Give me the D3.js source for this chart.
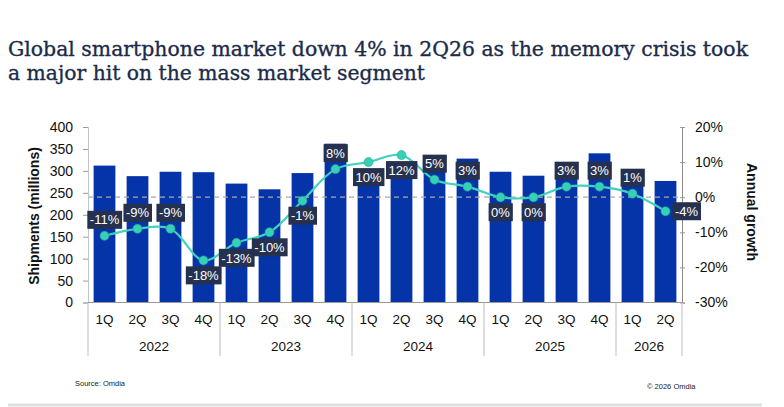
<!DOCTYPE html>
<html>
<head>
<meta charset="utf-8">
<script src="https://cdn.jsdelivr.net/npm/d3@7"></script>
<style>
  body { margin: 0; background: #fff; }
  svg { display: block; }
</style>
</head>
<body>
<div id="chart"></div>
<script>
// data
const years = ["2022", "2023", "2024", "2025", "2026"];
const quartersPerYear = [4, 4, 4, 4, 2];
const quarterNames = ["1Q", "2Q", "3Q", "4Q"];
const shipments = [312, 288, 298, 297, 271, 258, 295, 362, 298, 289, 310, 328, 298, 289, 319, 340, 299, 277];
const growth = [-11, -9, -9, -18, -13, -10, -1, 8, 10, 12, 5, 3, 0, 0, 3, 3, 1, -4];
const labelSide = ["up", "up", "up", "down", "down", "down", "down", "up", "down", "down", "up", "up", "down", "down", "up", "up", "up", "right"];
const leftTicks = [0, 50, 100, 150, 200, 250, 300, 350, 400];
const rightTicks = [-30, -20, -10, 0, 10, 20];

const width = 784, height = 407;
const margin = ({ top: 127, right: 102, bottom: 104.5, left: 88 });
const font = "'Liberation Sans', Arial, sans-serif";

// categories
const cats = [];
years.forEach((yr, i) => {
  for (let q = 0; q < quartersPerYear[i]; q++) cats.push({ key: yr + quarterNames[q], q: quarterNames[q], year: yr });
});

const svg = d3.select("#chart").append("svg")
  .attr("width", width)
  .attr("height", height);

svg.append("rect").attr("width", width).attr("height", height).attr("fill", "#fff");

// title (two lines, fitted to the reference widths)
const titleFont = "'DejaVu Serif', serif";
svg.append("text")
  .attr("x", 8).attr("y", 56)
  .attr("fill", "#1c2b4a")
  .attr("stroke", "#1c2b4a")
  .attr("stroke-width", 0.35)
  .attr("font-family", titleFont)
  .attr("font-size", 21)
  .attr("textLength", 740)
  .attr("lengthAdjust", "spacingAndGlyphs")
  .text("Global smartphone market down 4% in 2Q26 as the memory crisis took");
svg.append("text")
  .attr("x", 8).attr("y", 80)
  .attr("fill", "#1c2b4a")
  .attr("stroke", "#1c2b4a")
  .attr("stroke-width", 0.35)
  .attr("font-family", titleFont)
  .attr("font-size", 21)
  .attr("textLength", 417)
  .attr("lengthAdjust", "spacingAndGlyphs")
  .text("a major hit on the mass market segment");

//x scale
const x = d3.scaleBand()
  .domain(cats.map(d => d.key))
  .range([margin.left, width - margin.right])
  .paddingInner(0.34)
  .paddingOuter(0.17);

//y scales
const y = d3.scaleLinear()
  .domain([0, 400])
  .range([height - margin.bottom, margin.top]);

const y2 = d3.scaleLinear()
  .domain([-30, 20])
  .range([height - margin.bottom, margin.top]);

// bars
svg.append("g")
  .selectAll("rect")
  .data(shipments)
  .join("rect")
  .attr("x", (d, i) => x(cats[i].key))
  .attr("y", d => y(d))
  .attr("width", x.bandwidth())
  .attr("height", d => y(0) - y(d))
  .attr("fill", "#0533a8");

// zero growth reference line
svg.append("line")
  .attr("x1", margin.left)
  .attr("x2", width - margin.right)
  .attr("y1", y2(0))
  .attr("y2", y2(0))
  .attr("stroke", "#a9a9a9")
  .attr("stroke-width", 1.2)
  .attr("stroke-dasharray", "5,4");

// left axis
const yAxis = svg.append("g")
  .attr("transform", `translate(${margin.left},0)`)
  .call(d3.axisLeft(y).tickValues(leftTicks).tickSize(5).tickPadding(10));
yAxis.select(".domain").attr("stroke", "#c4c4c4");
yAxis.selectAll(".tick line").attr("stroke", "#9a9a9a");
yAxis.selectAll("text").attr("font-size", 14).attr("font-family", font).attr("fill", "#111");

// right axis
const y2Axis = svg.append("g")
  .attr("transform", `translate(${width - margin.right},0)`)
  .call(d3.axisRight(y2).tickValues(rightTicks).tickSize(3).tickPadding(10).tickFormat(d => d + "%"));
y2Axis.select(".domain").attr("stroke", "#8a8a8a");
y2Axis.selectAll(".tick line").attr("stroke", "#9a9a9a").attr("x1", -2);
y2Axis.selectAll("text").attr("font-size", 14).attr("font-family", font).attr("fill", "#111");

// bottom axis line
svg.append("line")
  .attr("x1", margin.left).attr("x2", width - margin.right)
  .attr("y1", y(0)).attr("y2", y(0))
  .attr("stroke", "#9a9a9a");

// quarter labels
svg.append("g")
  .selectAll("text")
  .data(cats)
  .join("text")
  .attr("x", d => x(d.key) + x.bandwidth() / 2)
  .attr("y", 324)
  .attr("text-anchor", "middle")
  .attr("font-family", font)
  .attr("font-size", 13.5)
  .attr("fill", "#111")
  .text(d => d.q);

// year groups
const groups = years.map(yr => {
  const keys = cats.filter(c => c.year === yr).map(c => c.key);
  const step = x.step();
  return {
    year: yr,
    x0: x(keys[0]) - step * 0.17,
    x1: x(keys[keys.length - 1]) + x.bandwidth() + step * 0.17
  };
});

svg.append("g")
  .selectAll("text")
  .data(groups)
  .join("text")
  .attr("x", d => (d.x0 + d.x1) / 2)
  .attr("y", 351)
  .attr("text-anchor", "middle")
  .attr("font-family", font)
  .attr("font-size", 13.5)
  .attr("fill", "#111")
  .text(d => d.year);

const seps = [groups[0].x0].concat(groups.map(g => g.x1));
svg.append("g")
  .selectAll("line")
  .data(seps)
  .join("line")
  .attr("x1", d => d).attr("x2", d => d)
  .attr("y1", y(0)).attr("y2", 356)
  .attr("stroke", "#bdbdbd");

// growth line
const line = d3.line()
  .x((d, i) => x(cats[i].key) + x.bandwidth() / 2)
  .y(d => y2(d))
  .curve(d3.curveCatmullRom);

svg.append("path")
  .datum(growth)
  .attr("fill", "none")
  .attr("stroke", "#3dd3bd")
  .attr("stroke-width", 2.2)
  .attr("d", line);

svg.append("g")
  .selectAll("circle")
  .data(growth)
  .join("circle")
  .attr("cx", (d, i) => x(cats[i].key) + x.bandwidth() / 2)
  .attr("cy", d => y2(d))
  .attr("r", 4.5)
  .attr("fill", "#36d0b9")
  .attr("stroke", "#22a493")
  .attr("stroke-width", 0.6);

// data labels
const labels = svg.append("g")
  .selectAll("g")
  .data(growth)
  .join("g")
  .attr("transform", (d, i) => {
    const cx = x(cats[i].key) + x.bandwidth() / 2;
    const cy = y2(d);
    if (labelSide[i] === "up") return `translate(${cx},${cy - 16})`;
    if (labelSide[i] === "down") return `translate(${cx},${cy + 15})`;
    return `translate(${cx + 21},${cy})`;
  });

labels.append("text")
  .attr("text-anchor", "middle")
  .attr("dy", "0.36em")
  .attr("font-family", font)
  .attr("font-size", 13)
  .attr("fill", "#fff")
  .text(d => d + "%");

labels.each(function() {
  const g = d3.select(this);
  const bb = g.select("text").node().getBBox();
  g.insert("rect", "text")
    .attr("x", bb.x - 2.5)
    .attr("y", -9)
    .attr("width", bb.width + 5)
    .attr("height", 18)
    .attr("fill", "#26314f");
});

// axis titles
svg.append("text")
  .attr("transform", "translate(39,216) rotate(-90)")
  .attr("text-anchor", "middle")
  .attr("font-family", font)
  .attr("font-weight", "bold")
  .attr("font-size", 14)
  .attr("fill", "#111")
  .text("Shipments (millions)");

svg.append("text")
  .attr("transform", "translate(747,212) rotate(90)")
  .attr("text-anchor", "middle")
  .attr("font-family", font)
  .attr("font-weight", "bold")
  .attr("font-size", 14)
  .attr("fill", "#111")
  .text("Annual growth");

// footer
svg.append("text")
  .attr("x", 75).attr("y", 386)
  .attr("font-family", font)
  .attr("font-size", 7.5)
  .attr("fill", "#222")
  .text("Source: Omdia");

svg.append("text")
  .attr("x", 647).attr("y", 389)
  .attr("font-family", font)
  .attr("font-size", 7.5)
  .attr("fill", "#222")
  .text("© 2026 Omdia");

svg.append("line")
  .attr("x1", 8).attr("x2", 762)
  .attr("y1", 405).attr("y2", 405)
  .attr("stroke", "#dde1e1")
  .attr("stroke-width", 3);
</script>
</body>
</html>
